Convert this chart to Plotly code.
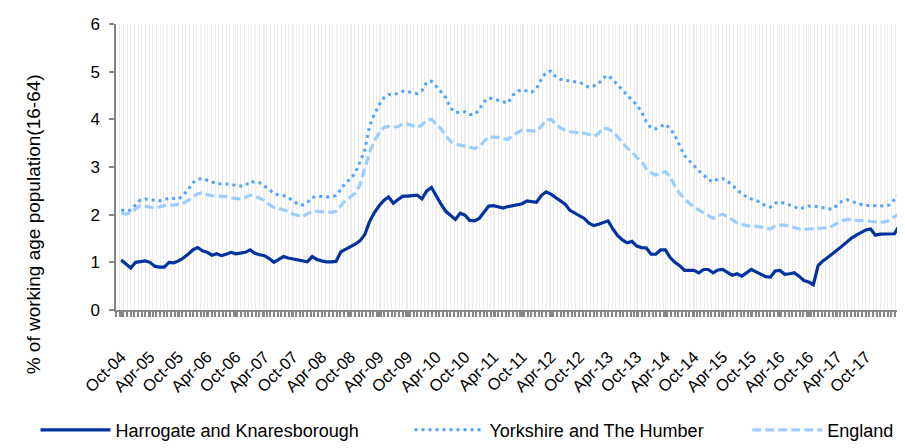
import pandas as pd
import plotly.graph_objects as go

# ---- data (monthly, Oct-04 onwards) ----
months = list(pd.date_range("2004-10-01", periods=165, freq="MS").strftime("%b-%y"))

harrogate = [
    1.05, 0.97, 0.88, 1.00, 1.02, 1.03, 1.00, 0.92, 0.90, 0.90,
    1.00, 0.99, 1.03, 1.09, 1.17, 1.26, 1.31, 1.24, 1.21, 1.15,
    1.18, 1.14, 1.17, 1.21, 1.18, 1.19, 1.21, 1.26, 1.19, 1.16,
    1.14, 1.08, 1.00, 1.06, 1.12, 1.09, 1.07, 1.05, 1.03, 1.01,
    1.12, 1.06, 1.03, 1.01, 1.01, 1.02, 1.22, 1.27, 1.32, 1.38,
    1.45, 1.58, 1.85, 2.04, 2.18, 2.30, 2.37, 2.24, 2.32, 2.39,
    2.39, 2.40, 2.41, 2.33, 2.50, 2.57, 2.38, 2.22, 2.07, 1.98,
    1.90, 2.03, 1.99, 1.88, 1.87, 1.92, 2.05, 2.18, 2.19, 2.16,
    2.14, 2.17, 2.19, 2.21, 2.23, 2.29, 2.27, 2.26, 2.40, 2.48,
    2.43, 2.36, 2.30, 2.22, 2.09, 2.03, 1.97, 1.92, 1.82, 1.77,
    1.80, 1.84, 1.87, 1.70, 1.56, 1.47, 1.41, 1.44, 1.34, 1.31,
    1.30, 1.17, 1.17, 1.26, 1.26, 1.10, 1.00, 0.93, 0.83, 0.83,
    0.83, 0.78, 0.85, 0.85, 0.78, 0.84, 0.85, 0.79, 0.73, 0.76,
    0.71, 0.78, 0.85, 0.80, 0.75, 0.70, 0.69, 0.82, 0.83, 0.75,
    0.76, 0.78, 0.71, 0.62, 0.59, 0.53, 0.93, 1.03, 1.10, 1.17,
    1.26, 1.34, 1.43, 1.51, 1.57, 1.62, 1.68, 1.70, 1.57, 1.59,
    1.59, 1.60, 1.60, 1.77, 1.77,
]

yorkshire = [
    2.10, 2.08, 2.10, 2.21, 2.31, 2.33, 2.32, 2.30, 2.29, 2.31,
    2.35, 2.34, 2.33, 2.41, 2.52, 2.67, 2.74, 2.76, 2.72, 2.68,
    2.65, 2.65, 2.65, 2.64, 2.61, 2.60, 2.61, 2.70, 2.68, 2.67,
    2.60, 2.52, 2.45, 2.41, 2.40, 2.36, 2.29, 2.22, 2.20, 2.26,
    2.36, 2.38, 2.38, 2.37, 2.38, 2.40, 2.53, 2.67, 2.75, 2.87,
    3.10, 3.35, 3.85, 4.10, 4.30, 4.45, 4.52, 4.51, 4.55, 4.59,
    4.58, 4.56, 4.54, 4.60, 4.78, 4.80, 4.70, 4.58, 4.45, 4.24,
    4.14, 4.15, 4.16, 4.10, 4.10, 4.20, 4.37, 4.45, 4.43, 4.40,
    4.37, 4.34, 4.50, 4.59, 4.62, 4.60, 4.57, 4.65, 4.84, 4.99,
    5.01, 4.90, 4.84, 4.82, 4.80, 4.79, 4.78, 4.72, 4.67, 4.70,
    4.75, 4.87, 4.92, 4.83, 4.72, 4.60, 4.49, 4.40, 4.30, 4.16,
    3.95, 3.82, 3.80, 3.85, 3.90, 3.80, 3.66, 3.45, 3.24, 3.13,
    3.02, 2.92, 2.84, 2.73, 2.69, 2.75, 2.76, 2.70, 2.63, 2.52,
    2.44, 2.37, 2.33, 2.30, 2.25, 2.18, 2.16, 2.24, 2.27, 2.24,
    2.21, 2.17, 2.12, 2.15, 2.18, 2.18, 2.16, 2.14, 2.12, 2.11,
    2.20, 2.28, 2.31, 2.29, 2.24, 2.21, 2.19, 2.19, 2.19, 2.18,
    2.18, 2.21, 2.32, 2.43, 2.50,
]

england = [
    2.03, 2.01, 2.05, 2.13, 2.19, 2.18, 2.16, 2.14, 2.16, 2.19,
    2.20, 2.20, 2.22, 2.24, 2.30, 2.38, 2.44, 2.46, 2.42, 2.40,
    2.39, 2.39, 2.38, 2.35, 2.34, 2.33, 2.36, 2.41, 2.39, 2.35,
    2.30, 2.21, 2.15, 2.13, 2.10, 2.07, 2.01, 1.98, 1.96, 2.02,
    2.06, 2.07, 2.06, 2.05, 2.05, 2.07, 2.18, 2.30, 2.37, 2.45,
    2.62, 2.95, 3.30, 3.54, 3.71, 3.83, 3.85, 3.84, 3.85, 3.91,
    3.90, 3.87, 3.83, 3.88, 3.99, 4.00, 3.90, 3.80, 3.66, 3.54,
    3.48, 3.46, 3.44, 3.42, 3.39, 3.42, 3.54, 3.63, 3.63, 3.62,
    3.59, 3.58, 3.66, 3.73, 3.78, 3.77, 3.76, 3.75, 3.85, 3.98,
    4.00, 3.92, 3.82, 3.77, 3.74, 3.73, 3.72, 3.71, 3.68, 3.64,
    3.70, 3.82, 3.80, 3.74, 3.63, 3.51, 3.40, 3.32, 3.20, 3.12,
    2.96, 2.88, 2.83, 2.88, 2.90, 2.80, 2.60, 2.44, 2.33, 2.24,
    2.16, 2.10, 2.03, 1.97, 1.92, 1.98, 2.01, 1.96, 1.90, 1.83,
    1.80, 1.77, 1.76, 1.76, 1.74, 1.72, 1.70, 1.76, 1.78, 1.78,
    1.76, 1.73, 1.70, 1.69, 1.70, 1.71, 1.72, 1.72, 1.72, 1.76,
    1.82, 1.87, 1.90, 1.89, 1.88, 1.87, 1.86, 1.85, 1.85, 1.84,
    1.85, 1.88, 1.96, 2.03, 2.08,
]

# labels every six months, Oct-04 ... Oct-17
tick_positions = list(range(0, 157, 6))
tick_labels = [months[i] for i in tick_positions]
x_idx = list(range(len(months)))

FONT = "Liberation Sans, Arial, sans-serif"

fig = go.Figure()
fig.add_trace(go.Scatter(
    x=x_idx, y=harrogate[:len(months)], customdata=months, mode="lines",
    name="Harrogate and Knaresborough", legend="legend",
    line=dict(color="#0033a0", width=3.2),
    hovertemplate="%{customdata}: %{y}<extra></extra>"))
fig.add_trace(go.Scatter(
    x=x_idx, y=yorkshire[:len(months)], customdata=months, mode="lines",
    name="Yorkshire and The Humber", legend="legend2",
    line=dict(color="#4da3ff", width=3, dash="3px,4px"),
    hovertemplate="%{customdata}: %{y}<extra></extra>"))
fig.add_trace(go.Scatter(
    x=x_idx, y=england[:len(months)], customdata=months, mode="lines",
    name="England", legend="legend3",
    line=dict(color="#9dcdff", width=3.2, dash="9px,4px"),
    hovertemplate="%{customdata}: %{y}<extra></extra>"))

leg_common = dict(orientation="h", yanchor="middle", xanchor="left",
                  font=dict(family=FONT, size=18, color="#000000"),
                  bgcolor="rgba(0,0,0,0)", itemwidth=70, y=-0.42)

fig.update_layout(
    width=905, height=448,
    margin=dict(l=108, r=8, t=16, b=138),
    paper_bgcolor="white", plot_bgcolor="white",
    font=dict(family=FONT, color="#000000"),
    showlegend=True,
    legend=dict(x=-0.102, **leg_common),
    legend2=dict(x=0.372, **leg_common),
    legend3=dict(x=0.80, **leg_common),
    xaxis=dict(
        range=[-1.1, 164.2],
        tickmode="array", tickvals=tick_positions, ticktext=tick_labels,
        tickangle=-45, tickfont=dict(family=FONT, size=16.5, color="#000000"),
        ticklabelstandoff=24,
        showline=True, linecolor="#868686", linewidth=1.5,
        ticks="outside", ticklen=5, tickcolor="#868686", tickwidth=1.5,
        showgrid=True, gridcolor="#ececec", gridwidth=1,
        zeroline=False,
        minor=dict(dtick=0.77, tick0=-1.1, ticks="outside", ticklen=5,
                   tickcolor="#868686", tickwidth=1.5,
                   showgrid=True, gridcolor="#ececec", gridwidth=1),
    ),
    yaxis=dict(
        range=[0, 6], dtick=1, tick0=0,
        tickfont=dict(family=FONT, size=17, color="#000000"),
        ticklabelstandoff=6,
        showline=True, linecolor="#868686", linewidth=1.5,
        ticks="outside", ticklen=5, tickcolor="#868686", tickwidth=1.5,
        showgrid=False, zeroline=False,
    ),
    annotations=[dict(
        text="% of working age population(16-64)", textangle=-90,
        xref="paper", yref="paper", x=-0.105, y=0.30,
        xanchor="center", yanchor="middle", showarrow=False,
        font=dict(family=FONT, size=19, color="#000000"))],
)

fig.write_html("out.html")
